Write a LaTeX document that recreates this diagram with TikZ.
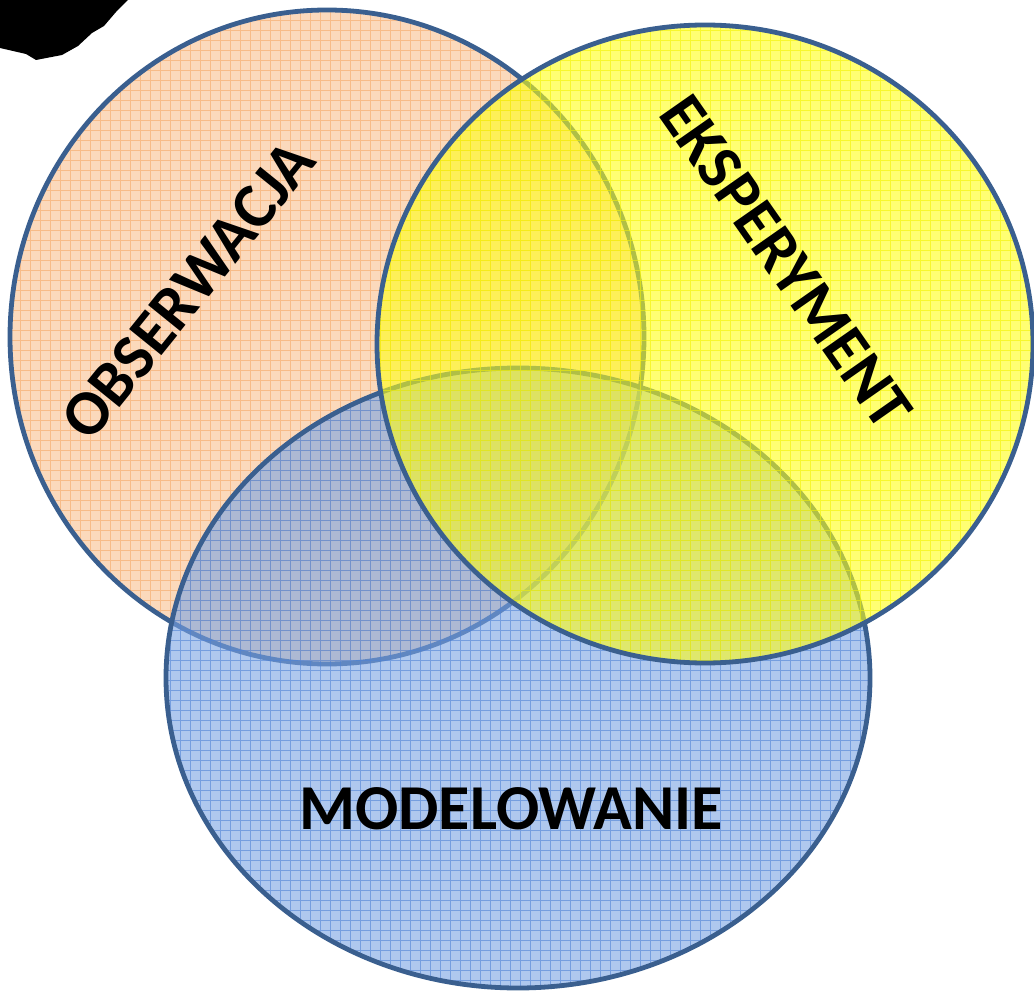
\documentclass[tikz,border=0pt]{standalone}
\usepackage{fontspec}
\setmainfont{Carlito}
\definecolor{obs}{HTML}{F8C08F}
\definecolor{obsgrid}{HTML}{F5A866}
\definecolor{eks}{HTML}{FFFF16}
\definecolor{eksgrid}{HTML}{F2F200}
\definecolor{mod}{HTML}{7AA3E3}
\definecolor{modgrid}{HTML}{4F82D6}
\definecolor{rim}{HTML}{3A5F8F}

\begin{document}
\begin{tikzpicture}[x=1pt,y=-1pt,
  rimline/.style={draw=rim,line width=4.8pt},
  setname/.style={font=\bfseries\fontsize{64}{64}\selectfont,text=black,inner sep=0pt}]
  \useasboundingbox (0,0) rectangle (1034,992);
  % czarna plama w rogu
  \fill[black] (0,0) -- (128,0) -- (116,12) -- (104,26) -- (92,33) -- (78,46)
    -- (62,55) -- (36,60) -- (26,54) -- (0,48) -- cycle;
  \coordinate (cO) at (327,337);
  \coordinate (cM) at (518,678);
  \coordinate (cE) at (705,344);
  \foreach \c/\rx/\ry/\f/\g in {cO/317/327/obs/obsgrid,cM/352/310/mod/modgrid,cE/328/319/eks/eksgrid}{
    \begin{scope}
      \clip (\c) ellipse [x radius=\rx pt,y radius=\ry pt];
      \fill[\f,fill opacity=.6] (\c) ellipse [x radius=\rx pt,y radius=\ry pt];
      \draw[\g,opacity=.6,step=10pt,line width=.9pt] (0,0) grid (1034,992);
    \end{scope}
    \draw[rimline] (\c) ellipse [x radius=\rx pt,y radius=\ry pt];
  }
  \node[setname,rotate=51] (obsl) at (188,290) {OBSERWACJA};
  \node[setname,rotate=-55] (eksl) at (786,262) {EKSPERYMENT};
  \node[setname] (modl) at (511,809) {MODELOWANIE};
\end{tikzpicture}
\end{document}
